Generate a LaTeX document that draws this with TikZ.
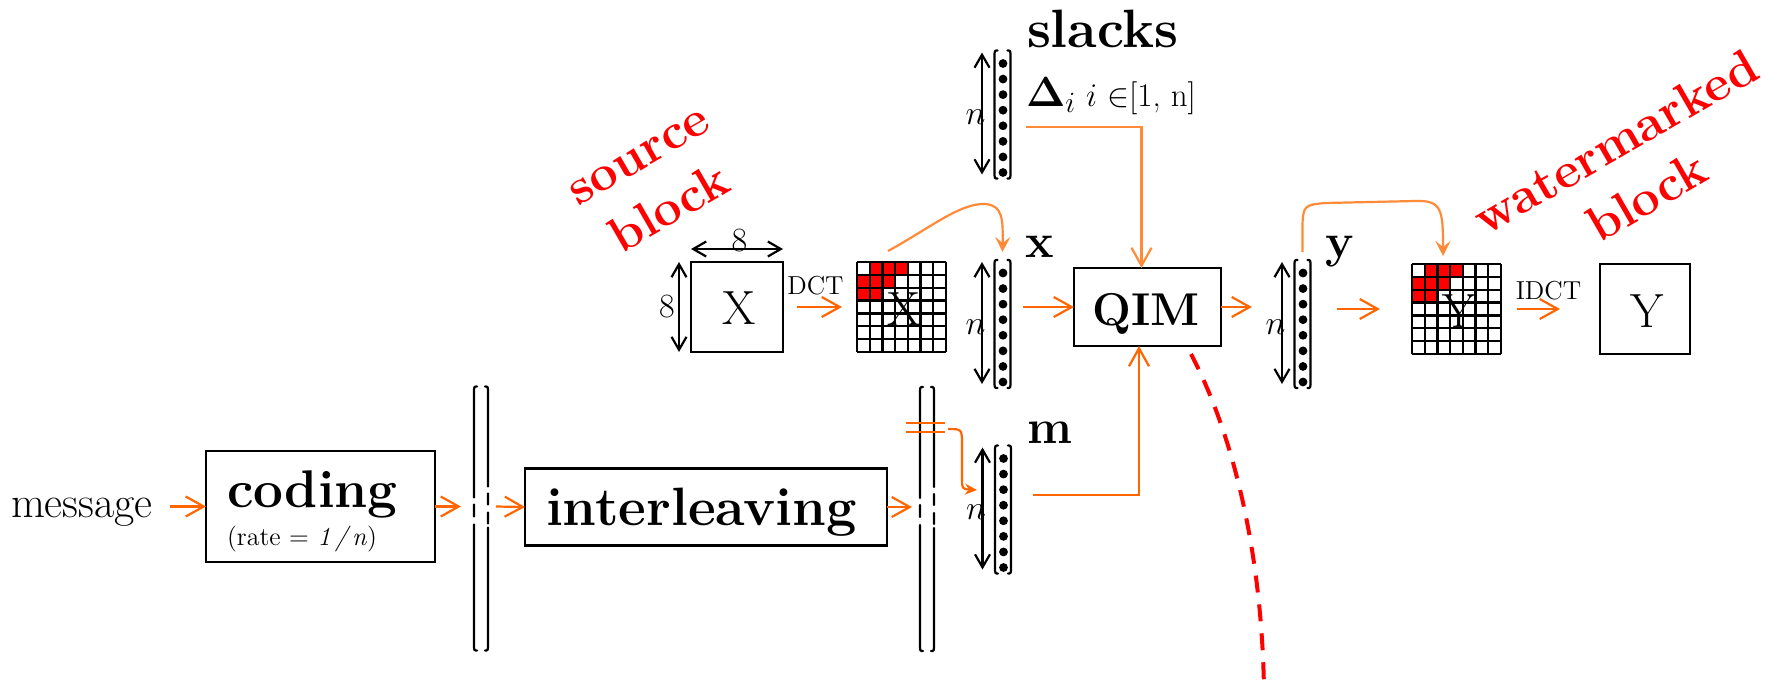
\RequirePackage{fix-cm}
\documentclass[tikz,border=0pt]{standalone}
\usepackage[no-math]{fontspec}
\usetikzlibrary{arrows.meta}

\definecolor{flow}{RGB}{255,102,0}
\definecolor{flowlight}{RGB}{255,138,56}

\tikzset{
  txt/.style={inner sep=0pt, outer sep=0pt},
  blk/.style={draw, line width=1.1pt, inner sep=0pt, outer sep=0pt},
  hd/.style={txt, font=\fontsize{24}{29}\selectfont\bfseries},
  flowarr/.style={draw=flow, line width=1.1pt, -{Straight Barb[length=9pt,width=10pt]}},
  flowarrlight/.style={draw=flowlight, line width=1.1pt, -{Straight Barb[length=9pt,width=10pt]}},
  hop/.style={draw=flowlight, line width=1.1pt, -{Stealth[length=7.5pt,width=7.5pt,inset=3pt]}},
  measure/.style={draw=black, line width=1.1pt,
    {Straight Barb[length=6.5pt,width=7.5pt]}-{Straight Barb[length=6.5pt,width=7.5pt]}},
  vecbox/.style={inner sep=0pt, outer sep=0pt, minimum width=8pt, minimum height=64pt},
  gridbox/.style={inner sep=0pt, outer sep=0pt, minimum width=44.5pt, minimum height=45pt},
  rail/.style={line width=1.1pt, line cap=round},
  stamp/.style={red, font=\fontsize{25}{31.5}\selectfont\bfseries, align=center, rotate=30, inner sep=0pt},
}

% column vector: brackets, eight entries and its length n
\newcommand\colvec[2]{%
  \node[vecbox] (#1) at (#2) {};
  \begin{scope}[shift={(#1.center)}]
    \draw[rail] (-5,-64) .. controls (-8,-64) .. (-8,-57) -- (-8,57) .. controls (-8,64) .. (-5,64);
    \draw[rail] (5,-64) .. controls (8,-64) .. (8,-57) -- (8,57) .. controls (8,64) .. (5,64);
    \foreach \k in {0,...,7} \fill (0.5,-51+\k*15.57) circle[radius=2.2pt];
    \draw[measure] (-20.5,-62) -- (-20.5,60);
    \node[txt, font=\fontsize{17}{20}\selectfont] (#1-n) at (-27,3) {$n$};
  \end{scope}}

% 7x7 coefficient grid with the low-frequency cells marked
\newcommand\dctgrid[3]{%
  \node[gridbox] (#1) at (#2) {};
  \begin{scope}[shift={(#1.north west)}]
    \foreach \ci/\ri in {1/0,2/0,3/0,0/1,1/1,2/1,0/2,1/2}
      \fill[red] (\ci*12.714,\ri*12.857) rectangle ++(12.714,12.857);
    \foreach \k in {0,...,7}{
      \draw[line width=1.1pt] (\k*12.714,0) -- (\k*12.714,90);
      \draw[line width=1.1pt] (0,\k*12.857) -- (89,\k*12.857);}
  \end{scope}
  \node[txt, anchor=base, font=\fontsize{24}{29}\selectfont] (#1-t) at ([shift={(2.5,18)}]#1.center) {#3};}

% pair of tall rails, broken where the arrow passes
\newcommand\rails[1]{%
  \begin{scope}[shift={(#1)}]
    \draw[rail] (3,-120) .. controls (0,-120) .. (0,-113) -- (0,-9) (0,-2) -- (0,10)
      (0,18) -- (0,137) .. controls (0,144) .. (3,144);
    \draw[rail] (11,-120) .. controls (14,-120) .. (14,-113) -- (14,-20) (14,-13) -- (14,-2)
      (14,6) -- (14,17) (14,21) -- (14,137) .. controls (14,144) .. (11,144);
  \end{scope}}

\begin{document}
\begin{tikzpicture}[x=0.5pt, y=-0.5pt]
\useasboundingbox (0,0) rectangle (1773,682);

% ---- message path ----
\node[txt, anchor=base west, font=\fontsize{22}{26}\selectfont] (msg) at (11,517) {message};
\coordinate (msgout) at (170,506.5);
\node[blk, minimum width=114.5pt, minimum height=55.5pt] (coding) at (320.5,506.5) {};
\node[hd, anchor=base west, font=\fontsize{26.5}{31}\selectfont\bfseries] (codingtxt) at (227,507) {coding};
\node[txt, anchor=base west, font=\fontsize{13}{16}\selectfont] (rate) at (227,545) {(rate = \textit{1\,/\,n})};
\draw[flowarr] (msgout) -- (coding.west);

\coordinate (railA) at (474,506.5);
\rails{railA}
\draw[flowarr] (coding.east) -- ([xshift=-6.5pt]railA);

\node[blk, minimum width=181pt, minimum height=38.5pt] (inter) at (706,507) {};
\node[hd, anchor=base west, font=\fontsize{27}{32}\selectfont\bfseries] (intertxt) at (546,525) {interleaving};
\draw[flowarr] ([xshift=11pt]railA) -- (inter.west);

\coordinate (railB) at (920,507);
\rails{railB}
\draw[flowarr] (inter.east) -- ([xshift=-4pt]railB);

% ---- column vectors ----
\colvec{sv}{1002.5,114.5}
\colvec{xv}{1002.5,324}
\colvec{mv}{1003,509.5}
\colvec{yv}{1302.5,324}

\node[hd, anchor=base west, font=\fontsize{27}{32}\selectfont\bfseries] (slacks) at (1027,47) {slacks};
\node[txt, anchor=base west] (delta) at (1026,106)
  {{\fontsize{21}{25}\selectfont$\mathbf{\Delta}_{i}$}\hspace{5pt}{\fontsize{16.5}{20}\selectfont$i$ $\in$[1, n]}};
\node[hd, anchor=base] (xlab) at (1040,257) {x};
\node[hd, anchor=base] (ylab) at (1340,257) {y};
\node[hd, anchor=base] (mlab) at (1050,443) {m};

% interleaved bits taken off towards m
\draw[flow, line width=1.1pt] ([shift={(-14,-84)}]railB) -- ++(39,0)
  ([shift={(-14,-75)}]railB) -- ++(39,0);
\draw[flow, line width=1.1pt, -{Stealth[length=6pt,width=5.5pt]}]
  ([shift={(28,-78)}]railB) .. controls (962,429) .. (962,445) -- (962,476)
  .. controls (962,489) .. ([shift={(-18,-19.5)}]mv.west);

% ---- source block and its DCT ----
\node[blk, minimum width=46pt, minimum height=45pt] (Xb) at (737,307) {};
\node[txt, anchor=base, font=\fontsize{24}{29}\selectfont] (Xbt) at (739,324) {X};
\draw[measure] ([yshift=6.5pt]Xb.north west) -- ([yshift=6.5pt]Xb.north east);
\draw[measure] ([xshift=-6pt]Xb.north west) -- ([xshift=-6pt]Xb.south west);
\node[txt, anchor=base, font=\fontsize{17}{20}\selectfont] (eightH) at (739.5,251) {8};
\node[txt, font=\fontsize{17}{20}\selectfont] (eightV) at (667,307) {8};

\dctgrid{gX}{901.5,307}{X}
\draw[flowarr] ([xshift=7pt]Xb.east) -- ([xshift=-7.5pt]gX.west);
\node[txt, anchor=base, font=\fontsize{13}{16}\selectfont] (dct) at (815.5,294) {DCT};

\draw[hop] ([shift={(-13.5,-11)}]gX.north) .. controls (930,228) and (960,203) .. (985,204)
  .. controls (1003,205) and (1003,220) .. ([yshift=4pt]xv.north);

% ---- embedding ----
\node[blk, minimum width=73.5pt, minimum height=39pt] (QIM) at (1147.5,307) {};
\node[hd, anchor=base, font=\fontsize{23}{28}\selectfont\bfseries] (qimt) at (1146,325) {QIM};

\coordinate (sq) at (1026,127);
\draw[flowarrlight] (sq) -| ([xshift=-3pt]QIM.north);
\coordinate (xq) at (1023,307);
\draw[flowarr] (xq) -- (QIM.west);
\coordinate (mq) at (1033,495);
\draw[flowarr] (mq) -| ([xshift=-4.25pt]QIM.south);
\coordinate (qy) at (1252,307);
\draw[flowarr] (QIM.east) -- (qy);

\coordinate (rdend) at (1264,690);
\draw[red, line width=2pt, dash pattern=on 8.5pt off 6pt]
  ([shift={(-30,8)}]QIM.south east) .. controls (1236,440) and (1262,560) .. (rdend);

% ---- watermarked block ----
\dctgrid{gY}{1456.5,309}{Y}
\coordinate (yg) at (1337,309);
\draw[flowarr] (yg) -- ([xshift=-16pt]gY.west);
\draw[hop] ([yshift=4pt]yv.north) -- (1302.5,228) .. controls (1302.5,205) and (1305,205) .. (1325,203)
  -- (1415,201) .. controls (1442,200) and (1443,210) .. ([shift={(-13.5,-8)}]gY.north);

\node[blk, minimum width=45pt, minimum height=45pt] (Yb) at (1645,309) {};
\node[txt, anchor=base, font=\fontsize{24}{29}\selectfont] (Ybt) at (1647,327) {Y};
\draw[flowarr] ([xshift=8pt]gY.east) -- ([xshift=-20pt]Yb.west);
\node[txt, anchor=base, font=\fontsize{13}{16}\selectfont] (idct) at (1548.5,299) {IDCT};

% ---- captions ----
\node[stamp] (srccap) at (656,185) {source\\block};
\node[stamp] (wmcap) at (1631,169) {watermarked\\block};
\end{tikzpicture}
\end{document}
